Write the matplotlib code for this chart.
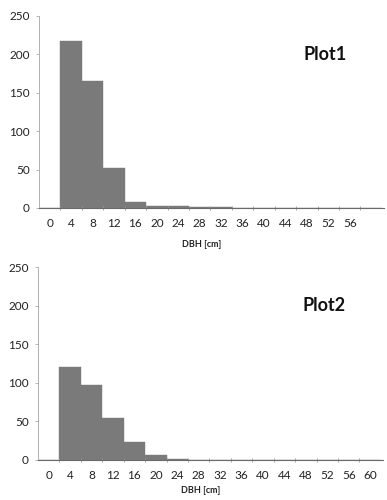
"""DBH histograms for two plots, drawn as Excel-style gapless columns."""

import matplotlib

matplotlib.use("Agg")

from matplotlib import pyplot as plt
from matplotlib.ticker import FixedLocator

plt.rcParams["font.family"] = ["Lato", "DejaVu Sans"]

# DBH classes [cm]
dbh_classes = [0, 4, 8, 12, 16, 20, 24, 28, 32, 36, 40, 44, 48, 52, 56, 60]

# tree counts per class
plot1_counts = [0, 218, 166, 52, 8, 2, 2, 1, 1, 0, 0, 0, 0, 0, 0, 0]
plot2_counts = [0, 121, 97, 54, 23, 7, 1, 0.5, 0.5, 0.3, 0, 0, 0, 0, 0, 0]

plot1_labels = [str(v) for v in dbh_classes[:-1]] + [""]
plot2_labels = [str(v) for v in dbh_classes]

y_ticks = [0, 50, 100, 150, 200, 250]


def _draw_panel(ax, counts, tick_labels, title, xlabel_y):
	positions = list(range(len(counts)))
	ax.bar(positions, counts, width=1.0, color="#7a7a7a", edgecolor="#7a7a7a", linewidth=0.3)
	ax.set_xlim(-0.5, len(counts) - 0.4)
	ax.set_ylim(0, 250)
	ax.set_yticks(y_ticks)
	ax.set_xticks(positions)
	ax.set_xticklabels(tick_labels)
	ax.xaxis.set_minor_locator(FixedLocator([p + 0.5 for p in positions[:-1]]))
	ax.tick_params(axis="x", which="major", length=0, pad=7.5, labelsize=8.5, colors="#222222")
	ax.tick_params(axis="x", which="minor", length=3, width=0.6, color="#999999", direction="inout")
	ax.tick_params(axis="y", length=2.5, width=0.6, color="#aaaaaa", labelsize=8.5, labelcolor="#222222", pad=4)
	for side in ("top", "right"):
		ax.spines[side].set_visible(False)
	ax.spines["left"].set_color("#b0b0b0")
	ax.spines["left"].set_linewidth(0.7)
	ax.spines["bottom"].set_color("#6a6a6a")
	ax.spines["bottom"].set_linewidth(0.8)
	ax.set_xlabel("DBH [cm]", fontsize=6.5, fontweight="bold", color="#222222", va="center")
	ax.xaxis.set_label_coords(0.47, xlabel_y)
	ax.text(0.83, 0.80, title, transform=ax.transAxes, fontsize=13, fontweight="bold",
		ha="center", va="center", color="#111111")


fig = plt.figure(figsize=(3.87, 5.0), dpi=100)
ax1 = fig.add_axes([39 / 387, 1 - 208 / 500, 345 / 387, 192 / 500])
ax2 = fig.add_axes([38 / 387, 1 - 460 / 500, 345 / 387, 193 / 500])

_draw_panel(ax1, plot1_counts, plot1_labels, "Plot1", -0.19)
_draw_panel(ax2, plot2_counts, plot2_labels, "Plot2", -0.16)

fig.savefig("out.png", dpi=100)
